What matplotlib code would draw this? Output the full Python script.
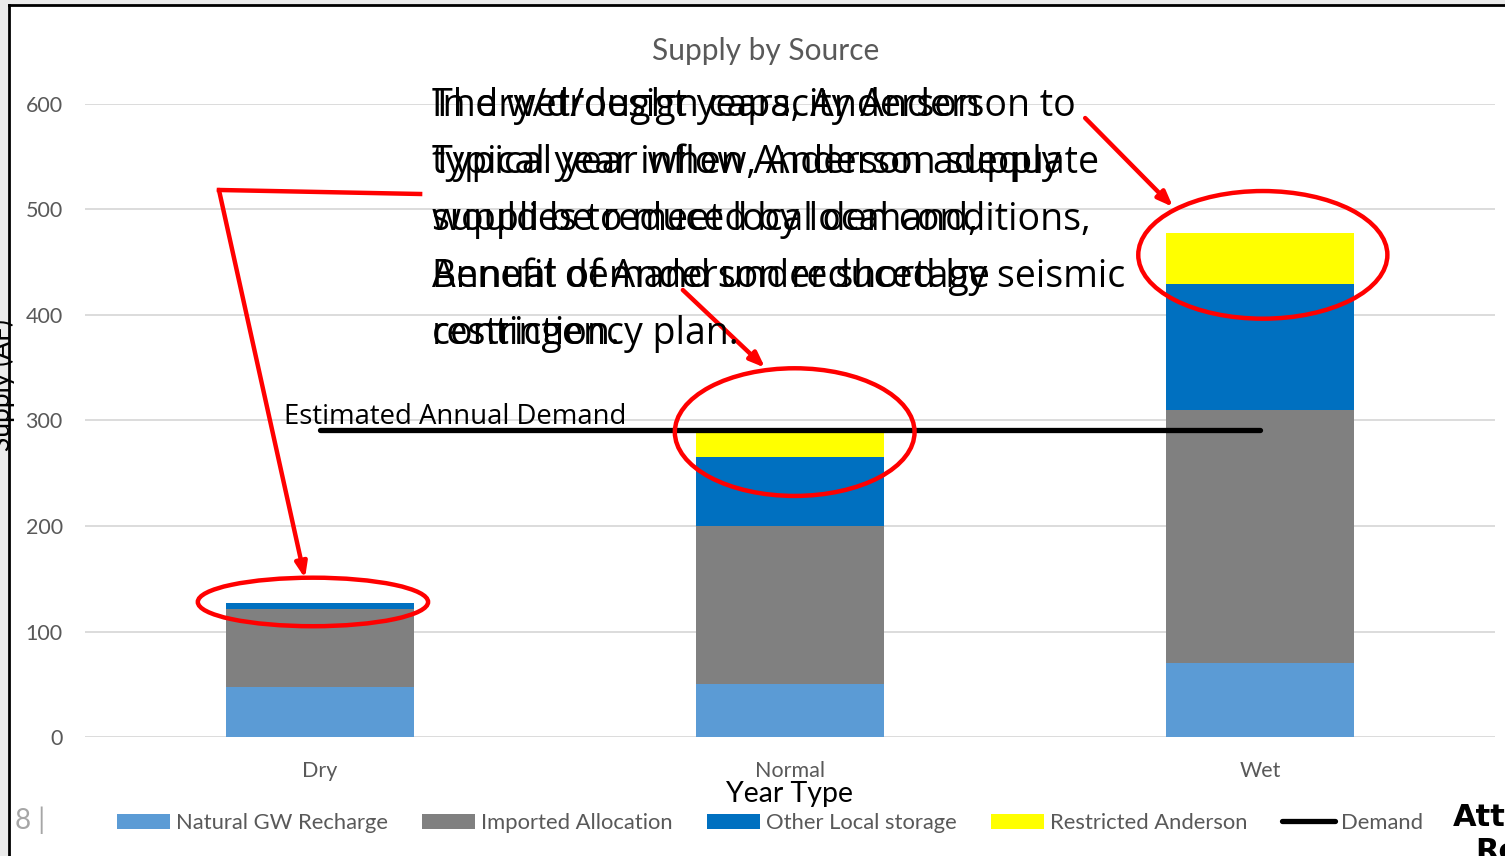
import numpy as np
import matplotlib
matplotlib.use("Agg")
import matplotlib.pyplot as plt
from matplotlib.patches import Ellipse, Rectangle, Patch
from matplotlib.lines import Line2D

# chart data (AF)
year_types = ["Dry", "Normal", "Wet"]
natural_gw = [47, 50, 70]
imported = [74, 150, 240]
other_local = [6, 65, 119]
restricted_anderson = [0, 24, 49]
demand = [291, 291, 291]
y_ticks = [0, 100, 200, 300, 400, 500, 600]

series_names = ["Natural GW Recharge", "Imported Allocation",
                "Other Local storage", "Restricted Anderson"]
series_colors = ["#5b9bd5", "#808080", "#0070c0", "#ffff00"]

# overlapping call-out text (two text boxes stacked on top of each other)
callout_a = ["In dry/drought years, Anderson",
             "typical year inflow, Anderson supply",
             "would be reduced by local conditions,",
             "Benefit of Anderson reduced by seismic",
             "restriction."]
callout_b = ["The wet/design capacity Anderson to",
             "Typical year when Anderson adequate",
             "supplies to meet local demand,",
             "Annual demand under shortage",
             "contingency plan."]

W, H = 1505, 856
GRAY = "#595959"
plt.rcParams["font.family"] = ["Lato", "DejaVu Sans"]

fig = plt.figure(figsize=(W / 100, H / 100), dpi=100)
fig.patch.set_facecolor("white")

# slide frame
fig.patches.append(Rectangle((0, 0), 8 / W, 1, transform=fig.transFigure,
                             facecolor="#ebebeb", edgecolor="none", zorder=0))
fig.patches.append(Rectangle((0, 1 - 5 / H), 1, 5 / H, transform=fig.transFigure,
                             facecolor="#ebebeb", edgecolor="none", zorder=0))
fig.add_artist(Line2D([9 / W, 9 / W], [0, 1 - 5 / H], transform=fig.transFigure,
                      color="black", lw=2))
fig.add_artist(Line2D([9 / W, 1], [1 - 5 / H, 1 - 5 / H], transform=fig.transFigure,
                      color="black", lw=2))

ax = fig.add_axes([85 / W, 119 / H, 1410 / W, 633 / H])
x = np.arange(len(year_types))
bottom = np.zeros(len(year_types))
for vals, name, col in zip([natural_gw, imported, other_local, restricted_anderson],
                           series_names, series_colors):
    ax.bar(x, vals, width=0.4, bottom=bottom, color=col, label=name, zorder=2)
    bottom += np.array(vals)

ax.plot(x, demand, color="black", lw=3.8, solid_capstyle="round", zorder=3)

ax.set_xlim(-0.5, 2.5)
ax.set_ylim(0, 600)
ax.set_yticks(y_ticks)
ax.set_xticks(x)
ax.set_xticklabels(year_types)
ax.grid(axis="y", color="#d9d9d9", lw=1.3, zorder=0)
ax.set_axisbelow(True)
for s in ax.spines.values():
    s.set_visible(False)
ax.tick_params(axis="y", length=0, pad=16, labelsize=15.5, labelcolor=GRAY)
ax.tick_params(axis="x", length=0, pad=17, labelsize=15.5, labelcolor=GRAY)

ax.text(-0.077, 297, "Estimated Annual Demand", fontsize=19.8, color="black",
        family=["Open Sans", "DejaVu Sans"])

fig.text(766 / W, 1 - 51 / H, "Supply by Source", ha="center", va="center",
         fontsize=21.5, color=GRAY)
fig.text(790 / W, 1 - 794 / H, "Year Type", ha="center", va="center",
         fontsize=20.5, color="black")
fig.text(2 / W, 1 - 385 / H, "Supply (AF)", ha="center", va="center",
         rotation=90, fontsize=19, color="black")

# call-out text
for lines in (callout_a, callout_b):
    for i, line in enumerate(lines):
        fig.text(432 / W, 1 - (116 + 57 * i) / H, line, ha="left", va="baseline",
                 fontsize=27, color="black", family=["Open Sans", "DejaVu Sans"])

# red highlight ellipses and arrows
red = "#ff0000"
ell = [(-0.015, 128, 0.49, 46), (1.01, 289, 0.51, 121), (2.006, 457, 0.53, 121)]
for cx, cy, w, h in ell:
    ax.add_patch(Ellipse((cx, cy), w, h, fill=False, edgecolor=red, lw=3.2,
                         clip_on=False, zorder=5))
ax.plot([0.213, -0.215], [514.7, 518.5], color=red, lw=3.2, clip_on=False, zorder=5)
arrows = [((-0.215, 518.5), (-0.032, 150.5)),
          ((0.772, 423.7), (0.947, 350)),
          ((1.628, 586.7), (1.815, 502.4))]
for (x0, y0), (x1, y1) in arrows:
    ax.annotate("", xy=(x1, y1), xytext=(x0, y0), annotation_clip=False,
                arrowprops=dict(arrowstyle="-|>,head_length=0.9,head_width=0.35",
                                color=red, lw=3.2, shrinkA=0, shrinkB=0), zorder=5)

# legend
handles = [Patch(facecolor=c, edgecolor="none") for c in series_colors]
handles.append(Line2D([], [], color="black", lw=3.8, solid_capstyle="round"))
labels = series_names + ["Demand"]
fig.legend(handles, labels, loc="center", bbox_to_anchor=(770 / W, 1 - 823 / H),
           ncol=5, frameon=False, fontsize=15.8, labelcolor=GRAY,
           handlelength=2.4, handleheight=0.65, handletextpad=0.3,
           columnspacing=1.55)

fig.text(15 / W, 1 - 820 / H, "8 |", ha="left", va="center", fontsize=20,
         color="#a6a6a6")
fig.text(1453 / W, 1 - 817 / H, "Attachment", ha="left", va="center",
         fontsize=22, fontweight="bold", color="black",
         family=["DejaVu Sans"])
fig.text(1475 / W, 1 - 852 / H, "Report", ha="left", va="center",
         fontsize=22, fontweight="bold", color="black",
         family=["DejaVu Sans"])

fig.savefig("out.png", dpi=100)
